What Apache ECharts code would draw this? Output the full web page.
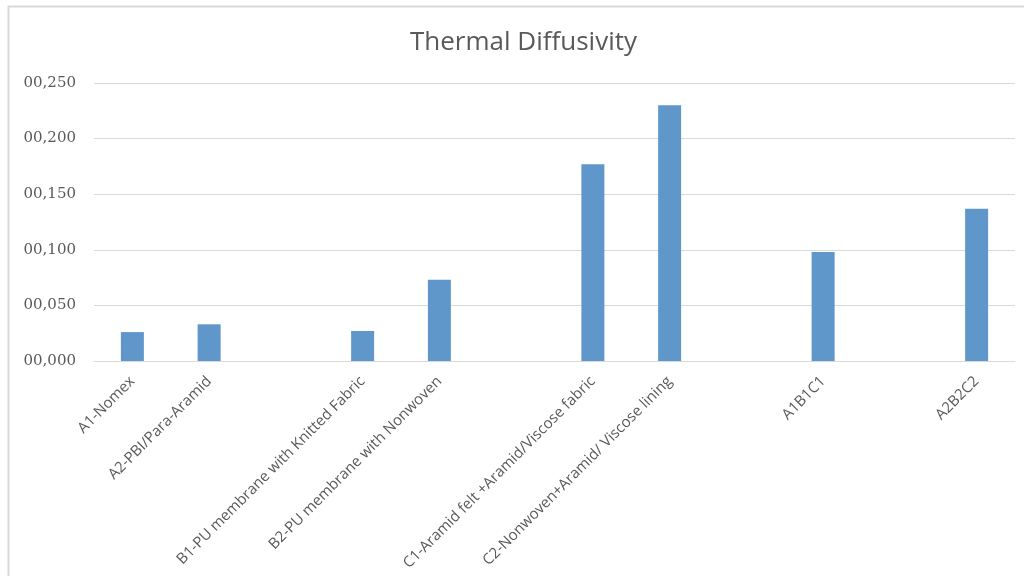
<!DOCTYPE html>
<html>
<head>
<meta charset="utf-8">
<script src="https://cdn.jsdelivr.net/npm/echarts@6/dist/echarts.min.js"></script>
<style>
html,body{margin:0;padding:0;background:#fff;}
#chart{width:1024px;height:576px;}
</style>
</head>
<body>
<div id="chart"></div>
<script>
const categories = [
  'A1-Nomex',
  'A2-PBI/Para-Aramid',
  '',
  'B1-PU membrane with Knitted Fabric',
  'B2-PU membrane with Nonwoven',
  '',
  'C1-Aramid felt +Aramid/Viscose fabric',
  'C2-Nonwoven+Aramid/ Viscose lining',
  '',
  'A1B1C1',
  '',
  'A2B2C2'
];
const diffusivity = [0.026, 0.033, null, 0.027, 0.073, null, 0.177, 0.230, null, 0.098, null, 0.137];
const yTicks = { min: 0, max: 0.25, interval: 0.05 };

const chart = echarts.init(document.getElementById('chart'));
chart.setOption({
  animation: false,
  backgroundColor: '#ffffff',
  title: {
    text: 'Thermal Diffusivity',
    left: 405,
    top: 25,
    textStyle: { fontFamily: 'Open Sans', fontSize: 26, fontWeight: 'normal', color: '#595959' }
  },
  grid: { left: 94, right: 9, top: 83, bottom: 215 },
  xAxis: {
    type: 'category',
    data: categories,
    axisLine: { lineStyle: { color: '#d9d9d9', width: 1 } },
    axisTick: { show: false },
    axisLabel: {
      interval: 0,
      rotate: 45,
      margin: 18,
      fontFamily: 'Open Sans',
      fontSize: 15,
      color: '#595959'
    }
  },
  yAxis: {
    type: 'value',
    min: yTicks.min,
    max: yTicks.max,
    interval: yTicks.interval,
    axisLine: { show: false },
    axisTick: { show: false },
    splitLine: { lineStyle: { color: '#d9d9d9', width: 1 } },
    axisLabel: {
      margin: 18,
      fontFamily: 'DejaVu Serif',
      fontSize: 15,
      color: '#595959',
      formatter: v => '0' + v.toFixed(3).replace('.', ',')
    }
  },
  series: [{
    type: 'bar',
    data: diffusivity,
    barWidth: 23,
    itemStyle: { color: '#5f97cb' }
  }],
  graphic: [
    { type: 'line', shape: { x1: 8.5, y1: 6, x2: 8.5, y2: 576 }, style: { stroke: '#d9d9d9', lineWidth: 2 } },
    { type: 'line', shape: { x1: 8, y1: 6.5, x2: 1024, y2: 6.5 }, style: { stroke: '#d9d9d9', lineWidth: 2 } }
  ]
});
</script>
</body>
</html>
